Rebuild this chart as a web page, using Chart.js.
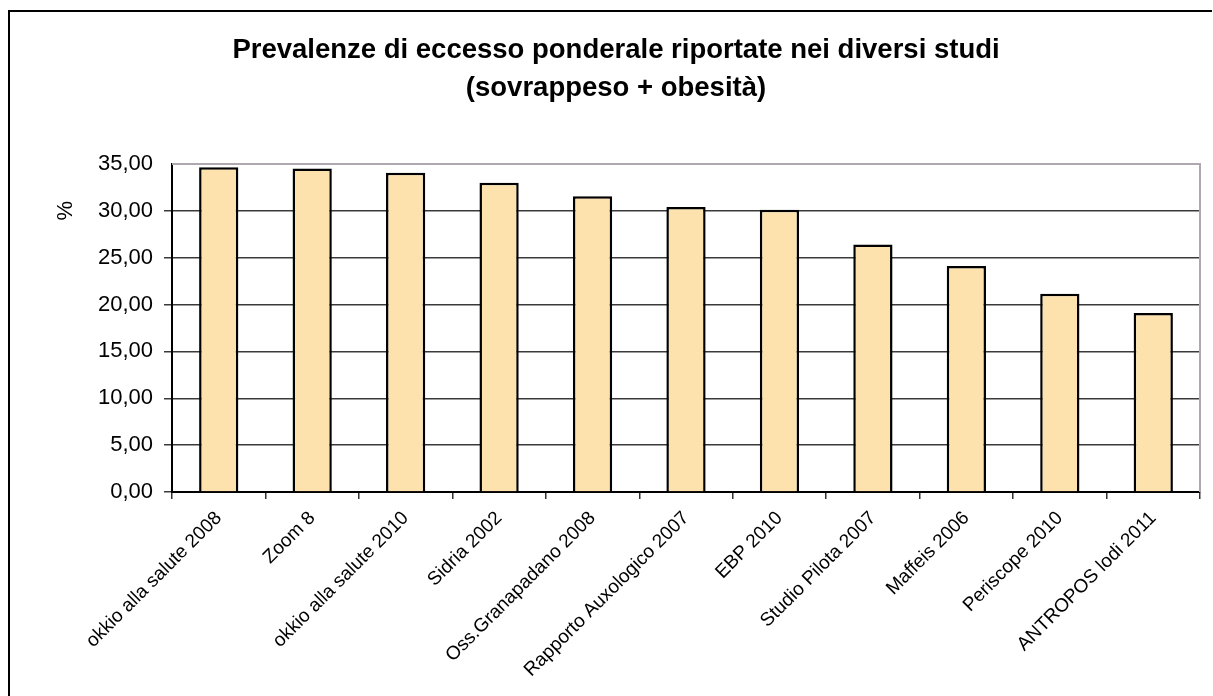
<!DOCTYPE html>
<html>
<head>
<meta charset="utf-8">
<script src="https://cdn.jsdelivr.net/npm/chart.js@4.4.0/dist/chart.umd.min.js"></script>
<style>
  html, body { margin: 0; padding: 0; background: #fff; }
  #wrap { position: relative; width: 1213px; height: 696px; }
</style>
</head>
<body>
<div id="wrap"><canvas id="chart"></canvas></div>
<script>
// studi e prevalenze (%)
const studies = [
    'okkio alla salute 2008',
    'Zoom 8',
    'okkio alla salute 2010',
    'Sidria 2002',
    'Oss.Granapadano 2008',
    'Rapporto Auxologico 2007',
    'EBP 2010',
    'Studio Pilota 2007',
    'Maffeis 2006',
    'Periscope 2010',
    'ANTROPOS lodi 2011'
]
const prevalence = [34.65, 34.5, 34.05, 33.0, 31.55, 30.4, 30.1, 26.4, 24.1, 21.15, 19.1]
const titleLines = ['Prevalenze di eccesso ponderale riportate nei diversi studi', '(sovrappeso + obesità)']
const yLabel = '%'

const frame = {
    id: 'frame',
    beforeDraw(chart) {
        const c = chart.ctx
        c.save()
        c.fillStyle = '#fff'
        c.fillRect(0, 0, chart.width, chart.height)
        c.strokeStyle = '#000'
        c.lineWidth = 2
        c.beginPath()
        c.moveTo(9, chart.height)
        c.lineTo(9, 11)
        c.lineTo(1212, 11)
        c.stroke()
        c.restore()
    },
    beforeDatasetsDraw(chart) {
        const a = chart.chartArea
        const c = chart.ctx
        c.save()
        c.strokeStyle = '#b0a8b0'
        c.lineWidth = 2
        c.beginPath()
        c.moveTo(a.left, a.top)
        c.lineTo(a.right, a.top)
        c.lineTo(a.right, a.bottom)
        c.stroke()
        // etichetta asse y
        const y = chart.scales.y.getPixelForValue(30)
        c.translate(66, y)
        c.rotate(-Math.PI / 2)
        c.fillStyle = '#000'
        c.font = '22px "Liberation Sans", Arial, sans-serif'
        c.textAlign = 'center'
        c.textBaseline = 'middle'
        c.fillText(yLabel, 0, 0)
        c.restore()
    }
}

const ctx = document.getElementById('chart')
const chart = new Chart(ctx, {
    type: 'bar',
    data: {
        labels: studies,
        datasets: [{
            data: prevalence,
            backgroundColor: '#fde2ad',
            borderColor: '#000',
            borderWidth: 2.5,
            categoryPercentage: 1,
            barPercentage: 0.42
        }]
    },
    options: {
        responsive: true,
        maintainAspectRatio: false,
        animation: false,
        devicePixelRatio: 1,
        layout: {padding: {top: 0, right: 13, left: 32, bottom: 0}},
        plugins: {
            legend: {display: false},
            tooltip: {enabled: false},
            title: {
                display: true,
                text: titleLines,
                color: '#000',
                font: {family: '"Liberation Sans", Arial, sans-serif', size: 27.5, weight: 'bold', lineHeight: 1.38},
                padding: {top: 31, bottom: 57}
            }
        },
        scales: {
            x: {
                afterFit(s) { s.height = 204 },
                grid: {
                    offset: true,
                    drawOnChartArea: false,
                    color: '#333',
                    tickLength: 7,
                    lineWidth: 1.5
                },
                border: {color: '#000', width: 2},
                ticks: {
                    color: '#000',
                    minRotation: 45,
                    maxRotation: 45,
                    padding: 8,
                    autoSkip: false,
                    font: {family: '"Liberation Sans", Arial, sans-serif', size: 19}
                }
            },
            y: {
                min: 0,
                max: 35,
                afterFit(s) { s.width = 140 },
                grid: {
                    color: (c) => c.tick.value === 35 ? 'rgba(0,0,0,0)' : '#3a3a3a',
                    lineWidth: 1.5,
                    tickLength: 8
                },
                border: {color: '#000', width: 2},
                ticks: {
                    stepSize: 5,
                    color: '#000',
                    padding: 11,
                    font: {family: '"Liberation Sans", Arial, sans-serif', size: 22},
                    callback: (v) => v.toFixed(2).replace('.', ',')
                }
            }
        }
    },
    plugins: [frame]
})
</script>
</body>
</html>
